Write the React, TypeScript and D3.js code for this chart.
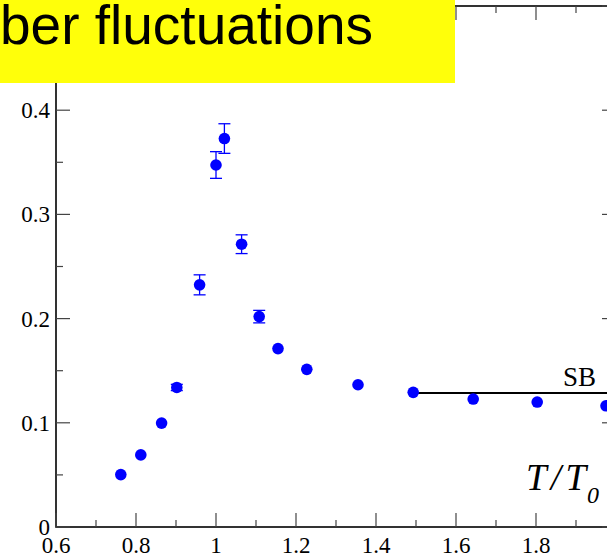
import React from "react";
import * as d3 from "d3";

const temps = [0.762, 0.812, 0.864, 0.902, 0.959, 1.0, 1.021, 1.064, 1.108, 1.155, 1.227, 1.355, 1.493, 1.643, 1.803, 1.975];
const values = [0.0503, 0.0692, 0.0997, 0.1339, 0.2324, 0.3474, 0.3728, 0.2714, 0.2019, 0.1712, 0.1513, 0.1365, 0.1292, 0.1228, 0.1199, 0.1163];
const errors = [0, 0, 0, 0.003, 0.0096, 0.0128, 0.0142, 0.009, 0.006, 0, 0, 0, 0, 0, 0, 0];
const sbValue = 0.1286;
const sbStart = 1.5;
const xTicks = [0.6, 0.8, 1, 1.2, 1.4, 1.6, 1.8, 2.0];
const xMinor = [0.7, 0.9, 1.1, 1.3, 1.5, 1.7, 1.9];
const yTicks = [0, 0.1, 0.2, 0.3, 0.4, 0.5];
const yLabels = [0, 0.1, 0.2, 0.3, 0.4];
const yMinor = [0.05, 0.15, 0.25, 0.35, 0.45];
const titleText = "ber fluctuations";

export default function App() {
  const W = 607, H = 554;
  const left = 56, right = 616, top = 6, bottom = 527;
  const x = d3.scaleLinear().domain([0.6, 2.0]).range([left, right]);
  const y = d3.scaleLinear().domain([0, 0.5]).range([bottom, top]);
  const serif = "'Liberation Serif', 'Times New Roman', serif";
  const tickColor = "#444";
  const blue = "#0000ff";

  return (
    <svg width={W} height={H} style={{ position: "absolute", left: 0, top: 0, background: "#fff" }}>
      {/* frame */}
      <rect x={left} y={top} width={right - left} height={bottom - top} fill="none" stroke="#000" strokeWidth={1.6} />
      {/* x ticks bottom & top */}
      {xTicks.map((t) => (
        <g key={"xt" + t}>
          <line x1={x(t)} x2={x(t)} y1={bottom} y2={bottom - 14} stroke={tickColor} strokeWidth={1.2} />
          <line x1={x(t)} x2={x(t)} y1={top} y2={top + 14} stroke={tickColor} strokeWidth={1.2} />
          <text x={x(t)} y={553} textAnchor="middle" fontFamily={serif} fontSize={23} fill="#000">
            {d3.format("")(t)}
          </text>
        </g>
      ))}
      {xMinor.map((t) => (
        <g key={"xm" + t}>
          <line x1={x(t)} x2={x(t)} y1={bottom} y2={bottom - 7} stroke={tickColor} strokeWidth={1.2} />
          <line x1={x(t)} x2={x(t)} y1={top} y2={top + 7} stroke={tickColor} strokeWidth={1.2} />
        </g>
      ))}
      {/* y ticks left & right */}
      {yTicks.map((t) => (
        <g key={"yt" + t}>
          <line x1={left} x2={left + 14} y1={y(t)} y2={y(t)} stroke={tickColor} strokeWidth={1.2} />
          <line x1={right} x2={right - 14} y1={y(t)} y2={y(t)} stroke={tickColor} strokeWidth={1.2} />
        </g>
      ))}
      {yLabels.map((t) => (
        <text key={"yl" + t} x={50} y={y(t) + 8} textAnchor="end" fontFamily={serif} fontSize={23} fill="#000">
          {d3.format("")(t)}
        </text>
      ))}
      {yMinor.map((t) => (
        <g key={"ym" + t}>
          <line x1={left} x2={left + 7} y1={y(t)} y2={y(t)} stroke={tickColor} strokeWidth={1.2} />
          <line x1={right} x2={right - 7} y1={y(t)} y2={y(t)} stroke={tickColor} strokeWidth={1.2} />
        </g>
      ))}
      {/* SB line */}
      <line x1={x(sbStart)} x2={right} y1={y(sbValue)} y2={y(sbValue)} stroke="#000" strokeWidth={2} />
      <text x={596} y={386} textAnchor="end" fontFamily={serif} fontSize={27} fill="#000">SB</text>
      {/* error bars */}
      {temps.map((t, i) =>
        errors[i] > 0 ? (
          <g key={"e" + i} stroke={blue} strokeWidth={1.3}>
            <line x1={x(t)} x2={x(t)} y1={y(values[i] - errors[i])} y2={y(values[i] + errors[i])} />
            <line x1={x(t) - 6} x2={x(t) + 6} y1={y(values[i] - errors[i])} y2={y(values[i] - errors[i])} />
            <line x1={x(t) - 6} x2={x(t) + 6} y1={y(values[i] + errors[i])} y2={y(values[i] + errors[i])} />
          </g>
        ) : null
      )}
      {/* points */}
      {temps.map((t, i) => (
        <circle key={"p" + i} cx={x(t)} cy={y(values[i])} r={5.8} fill={blue} />
      ))}
      {/* axis label */}
      <text x={526} y={490} fontFamily={serif} fontStyle="italic" fontSize={37} fill="#000" textLength={60} lengthAdjust="spacing">
        T/T
      </text>
      <text x={587} y={503} fontFamily={serif} fontStyle="italic" fontSize={24} fill="#000">
        0
      </text>
      {/* title box */}
      <rect x={0} y={0} width={455} height={83} fill="#ffff0a" />
      <text x={0} y={44} fontFamily="'Liberation Sans', Arial, Helvetica, sans-serif" fontSize={55} fill="#000">
        {titleText}
      </text>
    </svg>
  );
}
